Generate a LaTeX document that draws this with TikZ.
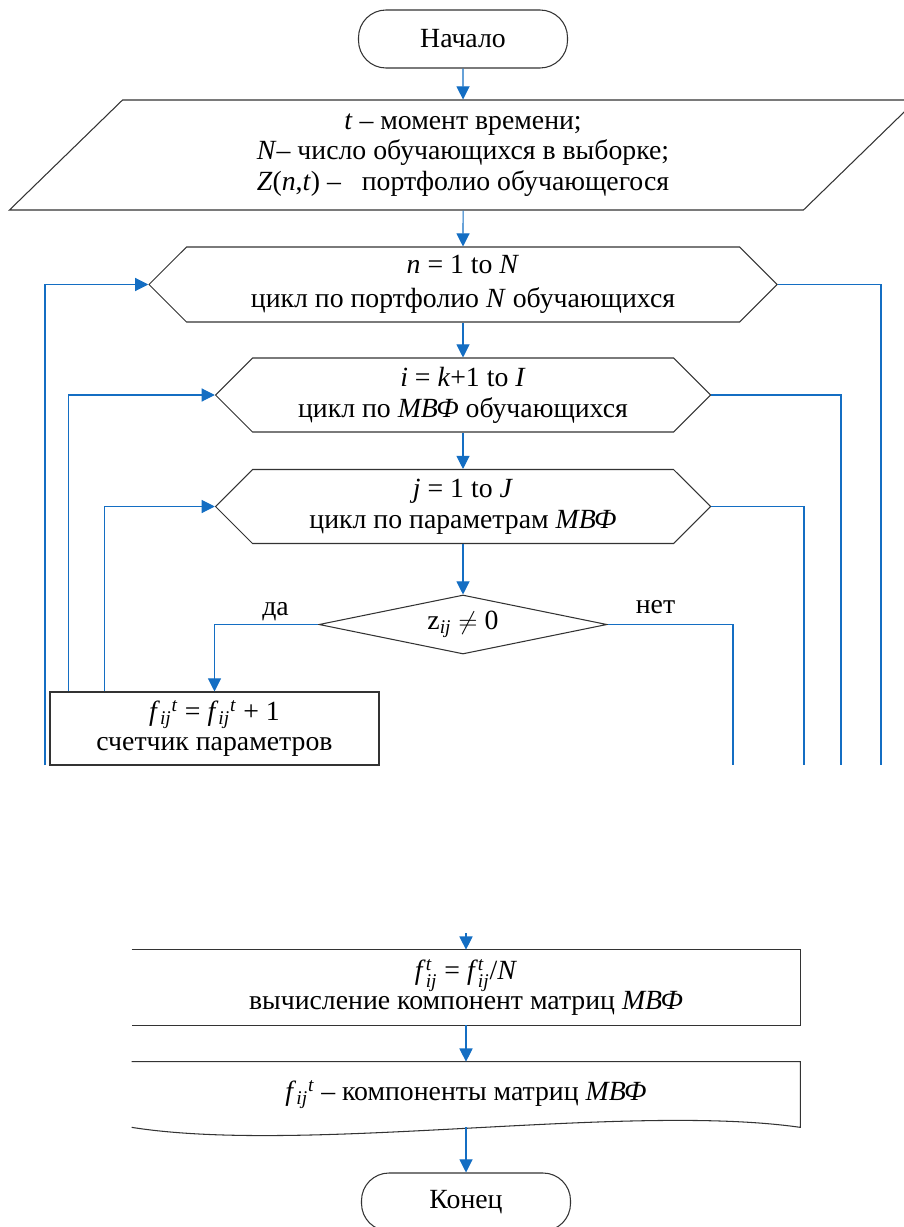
\documentclass[tikz,border=0pt]{standalone}
\usepackage{amsmath}
\usepackage{fontspec}
\setmainfont{Liberation Serif}
\usetikzlibrary{shapes.geometric, shapes.symbols, arrows.meta}
\definecolor{flowblue}{RGB}{20,110,195}
\tikzstyle{terminal} = [rectangle, rounded corners=0.55cm, minimum width=4.18cm, minimum height=1.16cm, text centered, draw=black!80, line width=0.6pt]
\tikzstyle{io} = [trapezium, trapezium left angle=40, trapezium right angle=140, trapezium stretches body=true, minimum width=18.14cm, minimum height=2.2cm, align=center, draw=black!80, line width=0.6pt]
\tikzstyle{loop} = [signal, signal to=west and east, signal pointer angle=90, minimum width=9.9cm, minimum height=1.48cm, align=center, draw=black!80, line width=0.6pt]
\tikzstyle{decision} = [diamond, shape aspect=5, minimum width=5.76cm, minimum height=1.18cm, inner sep=0pt, draw=black!80, line width=0.6pt]
\tikzstyle{process} = [rectangle, minimum width=6.58cm, minimum height=1.46cm, align=center, draw=black!80, line width=0.6pt]
\tikzstyle{openbox} = [rectangle, minimum width=13.36cm, minimum height=1.5cm, align=center]
\tikzstyle{outline} = [draw=black!80, line width=0.6pt]
\tikzstyle{link} = [draw=flowblue, line width=0.6pt]
\tikzstyle{arrow} = [link, -{Triangle[length=7.5pt,width=7.5pt]}]

\begin{document}
\begin{tikzpicture}[node distance=2cm, every node/.style={font=\fontsize{15.8}{17.5}\selectfont}]
\useasboundingbox (0,0) rectangle (18.08,-24.54);

% Start and input
\node (start) [terminal] at (9.26,-0.78) {Начало};
\node (data) [io, below of=start, yshift=-0.32cm] {\textit{t} -- момент времени;\\\textit{N}-- число обучающихся в выборке;\\\textit{Z}(\textit{n},\textit{t}) --~~ портфолио обучающегося};

% Loops
\node (loopn) [loop, minimum width=12.56cm, minimum height=1.5cm, below of=data, yshift=-0.59cm] {\textit{n} = 1 to \textit{N}\\[2pt]цикл по портфолио \textit{N} обучающихся};
\node (loopi) [loop, below of=loopn, yshift=-0.21cm] {\textit{i} = \textit{k}+1 to \textit{I}\\цикл по \textit{МВФ} обучающихся};
\node (loopj) [loop, below of=loopi, yshift=-0.23cm] {\textit{j} = 1 to \textit{J}\\цикл по параметрам \textit{МВФ}};

% Check and counter
\node (check) [decision, below of=loopj, yshift=-0.36cm] {z$_{\textit{ij}}$ $\neq$ 0};
\node (count) [process, below of=check, xshift=-4.97cm, yshift=-0.08cm] {\textit{f}$_{\textit{ij}}{}^{\textit{t}}$ = \textit{f}$_{\textit{ij}}{}^{\textit{t}}$ + 1\\счетчик параметров};
\node (yes) at ([xshift=-0.86cm, yshift=0.26cm]check.west) {да};
\node (no) at ([xshift=0.96cm, yshift=0.34cm]check.east) {нет};

% Free ends at the cut
\coordinate (backn) at (0.9,-15.3);
\coordinate (exitn) at (17.62,-15.3);
\coordinate (exiti) at (16.82,-15.3);
\coordinate (exitj) at (16.08,-15.3);
\coordinate (exitz) at (14.66,-15.3);
\coordinate (resume) at (9.32,-18.66);

% Output part
\node (norm) [openbox] at (9.32,-19.75) {\textit{f}$_{\textit{ij}}^{\textit{t}}$ = \textit{f}$_{\textit{ij}}^{\textit{t}}$/\textit{N}\\вычисление компонент матриц \textit{МВФ}};
\node (result) [openbox, minimum height=1.3cm, below of=norm, yshift=-0.14cm] {\textit{f}$_{\textit{ij}}{}^{\textit{t}}$ -- компоненты матриц \textit{МВФ}};
\node (end) [terminal, below of=result, yshift=-0.15cm] {Конец};
\draw [outline] (norm.north west) -- (norm.north east) -- (norm.south east) -- (norm.south west);
\draw [outline] (result.north west) -- (result.north east) -- (result.south east) .. controls +(-3.5,0.5) and +(3.5,-0.55) .. (result.south west);

% Arrows down the main line
\draw [arrow] (start.south) -- (data.north);
\draw [arrow] (data.south) -- (loopn.north);
\draw [arrow] (loopn.south) -- (loopi.north);
\draw [arrow] (loopi.south) -- (loopj.north);
\draw [arrow] (loopj.south) -- (check.north);
\draw [arrow] (check.west) -| (count.north);
\draw [link] (check.east) -| (exitz);

% Loop returns and exits
\draw [arrow] (backn) |- (loopn.west);
\draw [link] (loopn.east) -| (exitn);
\draw [arrow] ([xshift=0.38cm]count.north west) |- (loopi.west);
\draw [link] (loopi.east) -| (exiti);
\draw [arrow] ([xshift=1.1cm]count.north west) |- (loopj.west);
\draw [link] (loopj.east) -| (exitj);

% Arrows in the output part
\draw [arrow] (resume) -- (norm.north);
\draw [arrow] (norm.south) -- (result.north);
\draw [arrow] (result.south) -- (end.north);

\end{tikzpicture}
\end{document}
